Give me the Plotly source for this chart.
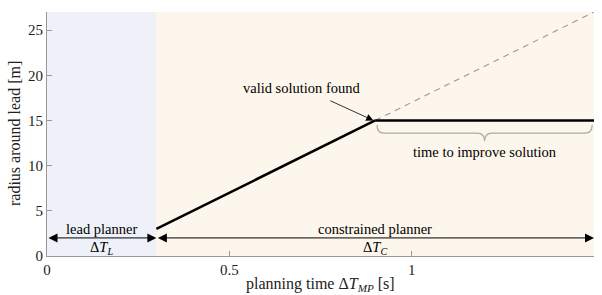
import plotly.graph_objects as go

# --- data ---
t_lead = 0.3            # end of lead planner phase [s]
t_found = 0.9           # time when valid solution found [s]
t_end = 1.5             # end of planning horizon [s]
r_start = 3.0           # radius at start of constrained planner [m]
r_found = 15.0          # radius when valid solution found [m]
r_extrap = 27.0         # extrapolated radius at t_end [m]
arrow_y = 2.0

growth_t = [t_lead, t_found]
growth_r = [r_start, r_found]
flat_t = [t_found, t_end]
flat_r = [r_found, r_found]
extrap_t = [t_found, t_end]
extrap_r = [r_found, r_extrap]

x_ticks = [0, 0.5, 1, 1.5]
x_tick_labels = ["0", "0.5", "1", "1.5"]
y_ticks = [0, 5, 10, 15, 20, 25]
y_tick_labels = ["0", "5", "10", "15", "20", "25"]

FONT = "Liberation Serif"
lead_bg = "#EEF1F7"
cons_bg = "#FDF6EC"

fig = go.Figure()

fig.add_trace(go.Scatter(x=extrap_t, y=extrap_r, mode="lines",
                         line=dict(color="#999999", width=1.1, dash="6px,5px"),
                         hoverinfo="skip"))
fig.add_trace(go.Scatter(x=growth_t, y=growth_r, mode="lines",
                         line=dict(color="black", width=2.5), hoverinfo="skip"))
fig.add_trace(go.Scatter(x=flat_t, y=flat_r, mode="lines",
                         line=dict(color="black", width=2.5), hoverinfo="skip"))

# background regions
fig.add_shape(type="rect", xref="x", yref="y", x0=0, x1=t_lead, y0=0, y1=r_extrap,
              fillcolor=lead_bg, line_width=0, layer="below")
fig.add_shape(type="rect", xref="x", yref="y", x0=t_lead, x1=t_end, y0=0, y1=r_extrap,
              fillcolor=cons_bg, line_width=0, layer="below")

# brace under the flat segment
x0, x1 = t_found + 0.005, t_end - 0.005
xm = (x0 + x1) / 2
yt, ymid, ytip = r_found - 0.5, r_found - 1.4, r_found - 2.3
d = 0.02
path = (f"M {x0},{yt} Q {x0},{ymid} {x0+d},{ymid} L {xm-d},{ymid} "
        f"Q {xm},{ymid} {xm},{ytip} Q {xm},{ymid} {xm+d},{ymid} "
        f"L {x1-d},{ymid} Q {x1},{ymid} {x1},{yt}")
fig.add_shape(type="path", xref="x", yref="y", path=path,
              line=dict(color="#AAAAAA", width=1.2))

tf = dict(family=FONT, size=14.5, color="black")
ann = []
# double arrows
for a, b in [(0, t_lead), (t_lead, t_end)]:
    ann.append(dict(x=b, y=arrow_y, ax=a, ay=arrow_y, xref="x", yref="y",
                    axref="x", ayref="y", showarrow=True, arrowhead=2,
                    startarrowhead=2, arrowside="end+start", arrowsize=1.8,
                    startarrowsize=1.8, arrowwidth=1, arrowcolor="black", text=""))
ann += [
    dict(x=t_lead / 2, y=arrow_y, text="lead planner", showarrow=False,
         yanchor="bottom", yshift=-1, font=tf),
    dict(x=t_lead / 2, y=arrow_y, text="Δ<i>T</i><sub><i>L</i></sub>", showarrow=False,
         yanchor="top", yshift=1, font=tf),
    dict(x=(t_lead + t_end) / 2, y=arrow_y, text="constrained planner", showarrow=False,
         yanchor="bottom", yshift=-1, font=tf),
    dict(x=(t_lead + t_end) / 2, y=arrow_y, text="Δ<i>T</i><sub><i>C</i></sub>", showarrow=False,
         yanchor="top", yshift=1, font=tf),
    dict(x=(t_found + t_end) / 2, y=ytip, text="time to improve solution", showarrow=False,
         yanchor="top", yshift=-1, font=tf),
    dict(x=t_found - 0.005, y=r_found, ax=0.7, ay=18.6, xref="x", yref="y",
         axref="x", ayref="y", showarrow=True, arrowhead=2, arrowsize=1.8,
         arrowwidth=0.8, arrowcolor="black", standoff=0, startstandoff=8,
         text="valid solution found", font=tf),
    # axis titles
    dict(x=0.5, y=0, xref="paper", yref="paper", yshift=-28, yanchor="middle",
         text="planning time Δ<i>T</i><sub><i>MP</i></sub> [s]", showarrow=False,
         font=dict(family=FONT, size=16, color="#222222")),
    dict(x=0, y=0.5, xref="paper", yref="paper", xshift=-33, xanchor="center",
         text="radius around lead [m]", showarrow=False, textangle=-90,
         font=dict(family=FONT, size=16, color="#222222")),
]

fig.update_layout(
    width=602, height=295,
    margin=dict(l=47, r=8, t=12, b=39),
    paper_bgcolor="white", plot_bgcolor="white",
    showlegend=False,
    font=dict(family=FONT, size=14, color="#222222"),
    annotations=ann,
)
fig.update_xaxes(range=[0, t_end], tickvals=x_ticks, ticktext=x_tick_labels,
                 automargin=False,
                 showgrid=False, zeroline=False, showline=True, linecolor="#999999",
                 linewidth=1, ticks="inside", ticklen=5, tickcolor="#999999",
                 tickfont=dict(family=FONT, size=15, color="#222222"))
fig.update_yaxes(range=[0, r_extrap], tickvals=y_ticks, ticktext=y_tick_labels,
                 automargin=False,
                 showgrid=False, zeroline=False, showline=True, linecolor="#999999",
                 linewidth=1, ticks="inside", ticklen=5, tickcolor="#999999",
                 tickfont=dict(family=FONT, size=15, color="#222222"))

fig.write_html("out.html", config={"displayModeBar": False},
               post_script="document.body.style.margin='0';document.body.style.overflow='hidden';")
